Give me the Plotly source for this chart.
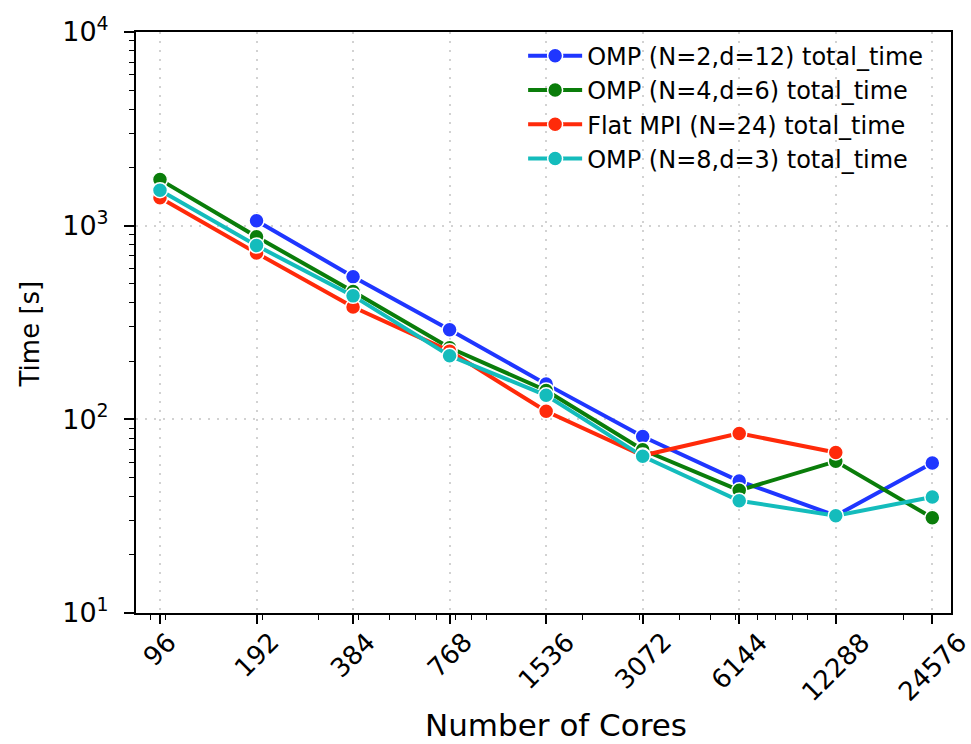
import math
import plotly.graph_objects as go

cores = [96, 192, 384, 768, 1536, 3072, 6144, 12288, 24576]
core_labels = [str(c) for c in cores]

omp_n2 = [None, 1060, 545, 290, 152, 81.5, 48, 31.8, 59.5]
omp_n4 = [1729, 877, 457, 234, 141, 69.6, 43, 60.7, 31]
flat_mpi = [1394, 722, 380, 225, 110, 65, 84.6, 67.4, None]
omp_n8 = [1525, 789, 434, 213, 133, 64.4, 38, 31.8, 39.7]

series = [
    ("OMP (N=2,d=12) total_time", omp_n2, "#1f36ff"),
    ("OMP (N=4,d=6) total_time", omp_n4, "#0a7d0a"),
    ("Flat MPI (N=24) total_time", flat_mpi, "#ff2a0a"),
    ("OMP (N=8,d=3) total_time", omp_n8, "#14bcbc"),
]

y_tickvals = [10, 100, 1000, 10000]
y_ticktext = ["10<sup>1</sup>", "10<sup>2</sup>", "10<sup>3</sup>", "10<sup>4</sup>"]

fig = go.Figure()
for i, (name, vals, color) in enumerate(series):
    xs = [c for c, v in zip(cores, vals) if v is not None]
    ys = [v for v in vals if v is not None]
    fig.add_trace(go.Scatter(
        x=xs, y=ys, name=name, mode="lines+markers",
        line=dict(color=color, width=4),
        marker=dict(color=color, size=15, line=dict(color="white", width=1.5)),
        legendgroup=f"g{i}",
    ))

# centred, rotated x tick labels (matplotlib style)
for c, lab in zip(cores, core_labels):
    fig.add_annotation(
        x=math.log10(c), y=0, xref="x", yref="paper",
        text=lab, showarrow=False, textangle=-45,
        xanchor="center", yanchor="top", yshift=-11,
        font=dict(size=26, family="DejaVu Sans", color="black"),
    )

fig.add_annotation(
    x=0.5, y=0, xref="paper", yref="paper", text="Number of Cores",
    showarrow=False, xanchor="center", yanchor="middle", yshift=-112, xshift=12,
    font=dict(size=31, family="DejaVu Sans", color="black"),
)
fig.add_annotation(
    x=0, y=0.5, xref="paper", yref="paper", text="Time [s]",
    showarrow=False, textangle=-90, xanchor="center", yanchor="middle",
    xshift=-107, yshift=-12,
    font=dict(size=26, family="DejaVu Sans", color="black"),
)

fig.update_layout(
    width=971, height=744,
    margin=dict(l=136, r=20, t=26, b=131),
    paper_bgcolor="white", plot_bgcolor="white",
    font=dict(family="DejaVu Sans", color="black"),
    showlegend=True,
    legend=dict(
        x=0.475, y=0.997, xanchor="left", yanchor="top",
        bgcolor="rgba(0,0,0,0)", font=dict(size=24, family="DejaVu Sans"),
        tracegroupgap=0, itemwidth=54,
    ),
)

grid = dict(showgrid=True, gridcolor="#d2d2d2", griddash="2px,7px", gridwidth=1.5)

fig.update_xaxes(
    type="log", range=[1.9075, 4.4488],
    tickvals=cores, showticklabels=False,
    ticks="outside", ticklen=9, tickwidth=1.5, tickcolor="black",
    minor=dict(ticks="outside", ticklen=5, tickwidth=1.2, tickcolor="black",
               dtick="D1", showgrid=False),
    showline=True, linecolor="black", linewidth=2, mirror=True,
    zeroline=False, **grid,
)
fig.update_yaxes(
    type="log", range=[1, 4],
    tickvals=y_tickvals, ticktext=y_ticktext,
    tickfont=dict(size=27, family="DejaVu Sans"),
    ticklabelstandoff=10,
    ticks="outside", ticklen=10, tickwidth=1.5, tickcolor="black",
    minor=dict(ticks="outside", ticklen=5, tickwidth=1.2, tickcolor="black",
               dtick="D1", showgrid=False),
    showline=True, linecolor="black", linewidth=2, mirror=True,
    zeroline=False, **grid,
)

fig.write_html("out.html")
